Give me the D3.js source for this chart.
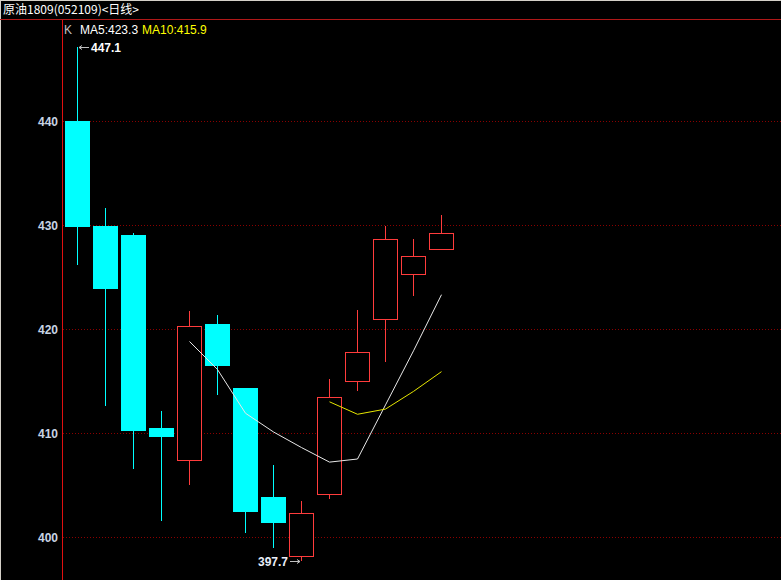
<!DOCTYPE html>
<html><head><meta charset="utf-8">
<script src="https://cdn.jsdelivr.net/npm/d3@7"></script>
<style>html,body{margin:0;padding:0;background:#000;overflow:hidden}</style>
</head><body>
<svg id="c" width="781" height="580"></svg>
<script>
const title = "原油1809(052109)<日线>";
const idx   = [0,1,2,3,4,5,6,7,8,9,10,11,12,13];
const open  = [440.0, 429.9, 429.0, 410.5, 407.4, 420.5, 414.3, 403.8, 398.2, 404.1, 415.0, 421.0, 425.3, 427.7];
const close = [429.9, 423.9, 410.3, 409.7, 420.3, 416.5, 402.5, 401.4, 402.3, 413.5, 417.8, 428.7, 427.0, 429.2];
const high  = [447.1, 431.6, 429.2, 412.1, 421.7, 421.3, 414.3, 406.9, 403.5, 415.2, 421.8, 429.9, 428.7, 431.0];
const low   = [426.2, 412.6, 406.5, 401.5, 405.0, 413.7, 400.4, 398.9, 397.7, 403.7, 414.0, 416.8, 423.2, 427.7];
const ma5   = [null, null, null, null, 418.8, 416.1, 411.9, 410.1, 408.6, 407.2, 407.5, 412.7, 417.9, 423.3];
const ma10  = [null, null, null, null, null, null, null, null, null, 413.0, 411.8, 412.3, 414.0, 415.9];
const yTicks = [400, 410, 420, 430, 440];
const legend = [{t:"K", c:"#c0c0c0"}, {t:"MA5:423.3", c:"#ffffff"}, {t:"MA10:415.9", c:"#ffff00"}];

const W = 781, H = 580;
const svg = d3.select("#c");
svg.append("rect").attr("width", W).attr("height", H).attr("fill", "#000");
// window borders
svg.append("line").attr("x1",0).attr("x2",W).attr("y1",0.5).attr("y2",0.5).attr("stroke","#d4d0c8");
svg.append("line").attr("x1",0.5).attr("x2",0.5).attr("y1",0).attr("y2",H).attr("stroke","#d4d0c8");

const x = d3.scaleLinear().domain([0, 13]).range([77.5, 441.5]);
const y = d3.scaleLinear().domain([400, 440]).range([537, 121]);
const bw = 25;

// title
svg.append("text").attr("x", 3).attr("y", 14).attr("fill", "#ffffff")
  .attr("font-family", "'Noto Sans CJK SC', sans-serif").attr("font-size", 12).text(title);
// top separator
svg.append("line").attr("x1",0).attr("x2",W).attr("y1",19.5).attr("y2",19.5).attr("stroke","#b01818");

// grid
svg.append("g").selectAll("line").data(yTicks).join("line")
  .attr("x1", 63).attr("x2", W)
  .attr("y1", d => Math.round(y(d)) + 0.5).attr("y2", d => Math.round(y(d)) + 0.5)
  .attr("stroke", "#8a0000").attr("stroke-dasharray", "1,2");

// y axis labels
const yAxis = d3.axisLeft(y).tickValues(yTicks).tickSize(0).tickPadding(0).tickFormat(d3.format("d"));
const ga = svg.append("g").attr("transform", "translate(58,0)").call(yAxis);
ga.select(".domain").remove();
ga.selectAll("text").attr("fill", "#c8d4e4").attr("font-family", "'Liberation Sans', Arial, sans-serif")
  .attr("font-size", 12).attr("font-weight", "bold").attr("dy", "0.36em");

// vertical axis line
svg.append("line").attr("x1",62.5).attr("x2",62.5).attr("y1",20).attr("y2",H).attr("stroke","#e01010");

// legend
const lg = svg.append("text").attr("x", 64).attr("y", 34)
  .attr("font-family", "'Liberation Sans', Arial, sans-serif").attr("font-size", 12);
legend.forEach((l, i) => {
  lg.append("tspan").attr("fill", l.c).attr("dx", i === 0 ? 0 : (i === 1 ? 8 : 4)).text(l.t);
});

// candles
const cg = svg.append("g");
idx.forEach(i => {
  const up = close[i] >= open[i];
  const col = up ? "#ff3c3c" : "#00ffff";
  const cx = Math.round(x(i)) - 0.5;
  const top = Math.round(y(Math.max(open[i], close[i])));
  const bot = Math.round(y(Math.min(open[i], close[i])));
  // wicks
  cg.append("line").attr("x1", cx).attr("x2", cx)
    .attr("y1", Math.round(y(high[i]))).attr("y2", top).attr("stroke", col);
  cg.append("line").attr("x1", cx).attr("x2", cx)
    .attr("y1", bot).attr("y2", Math.round(y(low[i]))).attr("stroke", col);
  const left = Math.round(x(i) - bw / 2);
  if (up) {
    cg.append("rect").attr("x", left + 0.5).attr("y", top + 0.5)
      .attr("width", bw - 1).attr("height", Math.max(1, bot - top))
      .attr("fill", "#000").attr("stroke", col);
  } else {
    cg.append("rect").attr("x", left).attr("y", top)
      .attr("width", bw).attr("height", Math.max(1, bot - top + 1)).attr("fill", col);
  }
});

// moving averages
const line = d3.line().defined(d => d[1] != null).x(d => x(d[0])).y(d => y(d[1]));
svg.append("path").datum(idx.map(i => [i, ma5[i]])).attr("d", line)
  .attr("fill", "none").attr("stroke", "#e8e8e8").attr("stroke-width", 1);
svg.append("path").datum(idx.map(i => [i, ma10[i]])).attr("d", line)
  .attr("fill", "none").attr("stroke", "#e6e600").attr("stroke-width", 1);

// max / min annotations
const hiI = d3.maxIndex(high), loI = d3.minIndex(low);
const hx = Math.round(x(hiI)), hy = Math.round(y(high[hiI])) + 0.5;
svg.append("path").attr("d", `M${hx+1},${hy}H${hx+11}M${hx+1},${hy}l3,-2M${hx+1},${hy}l3,2`)
  .attr("stroke", "#c0c0c0").attr("fill", "none");
svg.append("text").attr("x", hx + 13).attr("y", hy + 4.5).attr("fill", "#ffffff")
  .attr("font-family", "'Liberation Sans', Arial, sans-serif").attr("font-size", 12).attr("font-weight", "bold")
  .text(d3.format(".1f")(high[hiI]));
const lx = Math.round(x(loI)) - 1, ly = Math.round(y(low[loI])) + 0.5;
svg.append("path").attr("d", `M${lx-11},${ly}H${lx-1}M${lx-1},${ly}l-3,-2M${lx-1},${ly}l-3,2`)
  .attr("stroke", "#c0c0c0").attr("fill", "none");
svg.append("text").attr("x", lx - 13).attr("y", ly + 4.5).attr("text-anchor", "end").attr("fill", "#e8eef8")
  .attr("font-family", "'Liberation Sans', Arial, sans-serif").attr("font-size", 12).attr("font-weight", "bold")
  .text(d3.format(".1f")(low[loI]));
</script>
</body></html>
